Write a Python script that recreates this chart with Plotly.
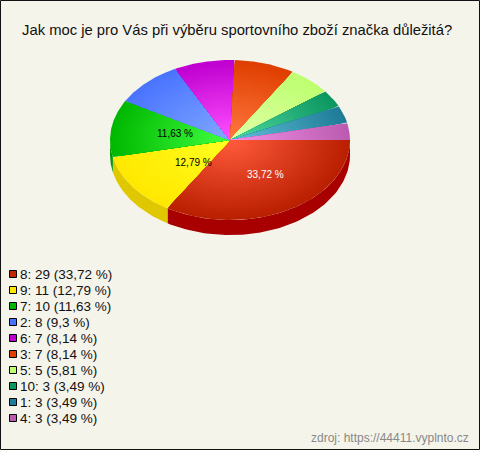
import numpy as np
import plotly.graph_objects as go

TITLE = "Jak moc je pro Vás při výběru sportovního zboží značka důležitá?"
SOURCE = "zdroj: https://44411.vyplnto.cz"
categories = ["8", "9", "7", "2", "6", "3", "5", "10", "1", "4"]
counts = [29, 11, 10, 8, 7, 7, 5, 3, 3, 3]
percent_labels = ["33,72", "12,79", "11,63", "9,3", "8,14", "8,14", "5,81", "3,49", "3,49", "3,49"]
legend_colors = ["#C02800", "#FFE800", "#00B800", "#4A74FF", "#BF00D0", "#DF3F00", "#BEFF70", "#0C9660", "#1F7C98", "#BC5CB0"]
outer_colors = ["#B92000", "#FFE800", "#00B800", "#4A74FF", "#BF00D0", "#DF3F00", "#BEFF70", "#0C9660", "#1F7C98", "#BC5CB0"]
inner_colors = ["#FF5A3C", "#FFFF20", "#40FF40", "#80A8FF", "#FF50FF", "#FF7840", "#E0FFA8", "#50D8A0", "#60C0D8", "#F090E8"]
side_colors = ["#A80000", "#E0C800", "#009800", "#3050C0", "#900098", "#B03000", "#90C050", "#087048", "#185C70", "#8C4484"]

BG = "#F5F4EB"
CX, CY, RX, RY, DEPTH = 230, 140, 120, 80, 15
LAYERS = 40
# radial placement (fraction of rx, fraction of ry) of labels on the big slices
LABEL_R = {0: (0.60, 0.49), 1: (0.37, 0.49), 2: (0.46, 0.54)}


def rgb(h):
    return np.array([int(h[i:i + 2], 16) for i in (1, 3, 5)], dtype=float)


def mix(a, b, t):
    c = rgb(a) * (1 - t) + rgb(b) * t
    return "rgb(%d,%d,%d)" % tuple(c.round())


fig = go.Figure()
total = sum(counts)
edges = np.cumsum([0] + counts) / total * 2 * np.pi

# Side wall (only the front half of the ellipse shows)
for i in range(len(counts)):
    a0, a1 = edges[i], min(edges[i + 1], np.pi)
    if a0 >= np.pi:
        continue
    t = np.linspace(a0, a1, 80)
    x = CX + RX * np.cos(t)
    y = CY + RY * np.sin(t)
    fig.add_trace(go.Scatter(
        x=np.r_[x, x[::-1]], y=np.r_[y, y[::-1] + DEPTH],
        mode="lines", fill="toself", fillcolor=side_colors[i],
        line=dict(width=0), hoverinfo="skip", showlegend=False))

# Top face: nested wedges make the radial shading
for i in range(len(counts)):
    t = np.linspace(edges[i], edges[i + 1], 120)
    for k in range(LAYERS):
        s = 1 - k / LAYERS
        x = np.r_[CX, CX + s * RX * np.cos(t), CX]
        y = np.r_[CY, CY + s * RY * np.sin(t), CY]
        fig.add_trace(go.Scatter(
            x=x, y=y, mode="lines", fill="toself",
            fillcolor=mix(outer_colors[i], inner_colors[i], k / (LAYERS - 1)),
            line=dict(width=0), hoverinfo="skip", showlegend=False))

# Percent labels on the big slices
for i, (fx, fy) in LABEL_R.items():
    mid = (edges[i] + edges[i + 1]) / 2
    fig.add_annotation(
        x=CX + fx * RX * np.cos(mid), y=CY + fy * RY * np.sin(mid),
        text=percent_labels[i] + " %", showarrow=False,
        font=dict(size=10, color="white" if i == 0 else "black"))

# Legend
LEG_Y0, LEG_DY = 274, 16
for i, c in enumerate(categories):
    y = LEG_Y0 + i * LEG_DY
    fig.add_trace(go.Scatter(
        x=[13], y=[y], mode="markers", name=c,
        marker=dict(symbol="square", size=7, color=legend_colors[i],
                    line=dict(color="black", width=1)),
        hoverinfo="skip", showlegend=False))
    fig.add_annotation(
        x=18, y=y, xanchor="left", yanchor="middle", showarrow=False,
        text=f"{c}: {counts[i]} ({percent_labels[i]} %)",
        font=dict(size=13.5, color="#111111"))

fig.add_annotation(x=237, y=30, text=TITLE, showarrow=False,
                   font=dict(size=14.8, color="#111111"))
fig.add_annotation(x=471, y=438, xanchor="right", text=SOURCE, showarrow=False,
                   font=dict(size=12, color="#888888"))

fig.update_layout(
    width=480, height=450, margin=dict(l=0, r=0, t=0, b=0),
    paper_bgcolor=BG, plot_bgcolor=BG, showlegend=False,
    font=dict(family="Liberation Sans, Arial, sans-serif"),
    xaxis=dict(range=[0, 480], visible=False, fixedrange=True),
    yaxis=dict(range=[450, 0], visible=False, fixedrange=True),
    shapes=[dict(type="rect", x0=0.5, x1=479.5, y0=0.5, y1=449.5,
                 line=dict(color="#111111", width=1), layer="above")],
)
fig.write_html("out.html", config={"displayModeBar": False},
               post_script="document.documentElement.style.margin='0';document.body.style.margin='0';document.body.style.overflow='hidden';")
